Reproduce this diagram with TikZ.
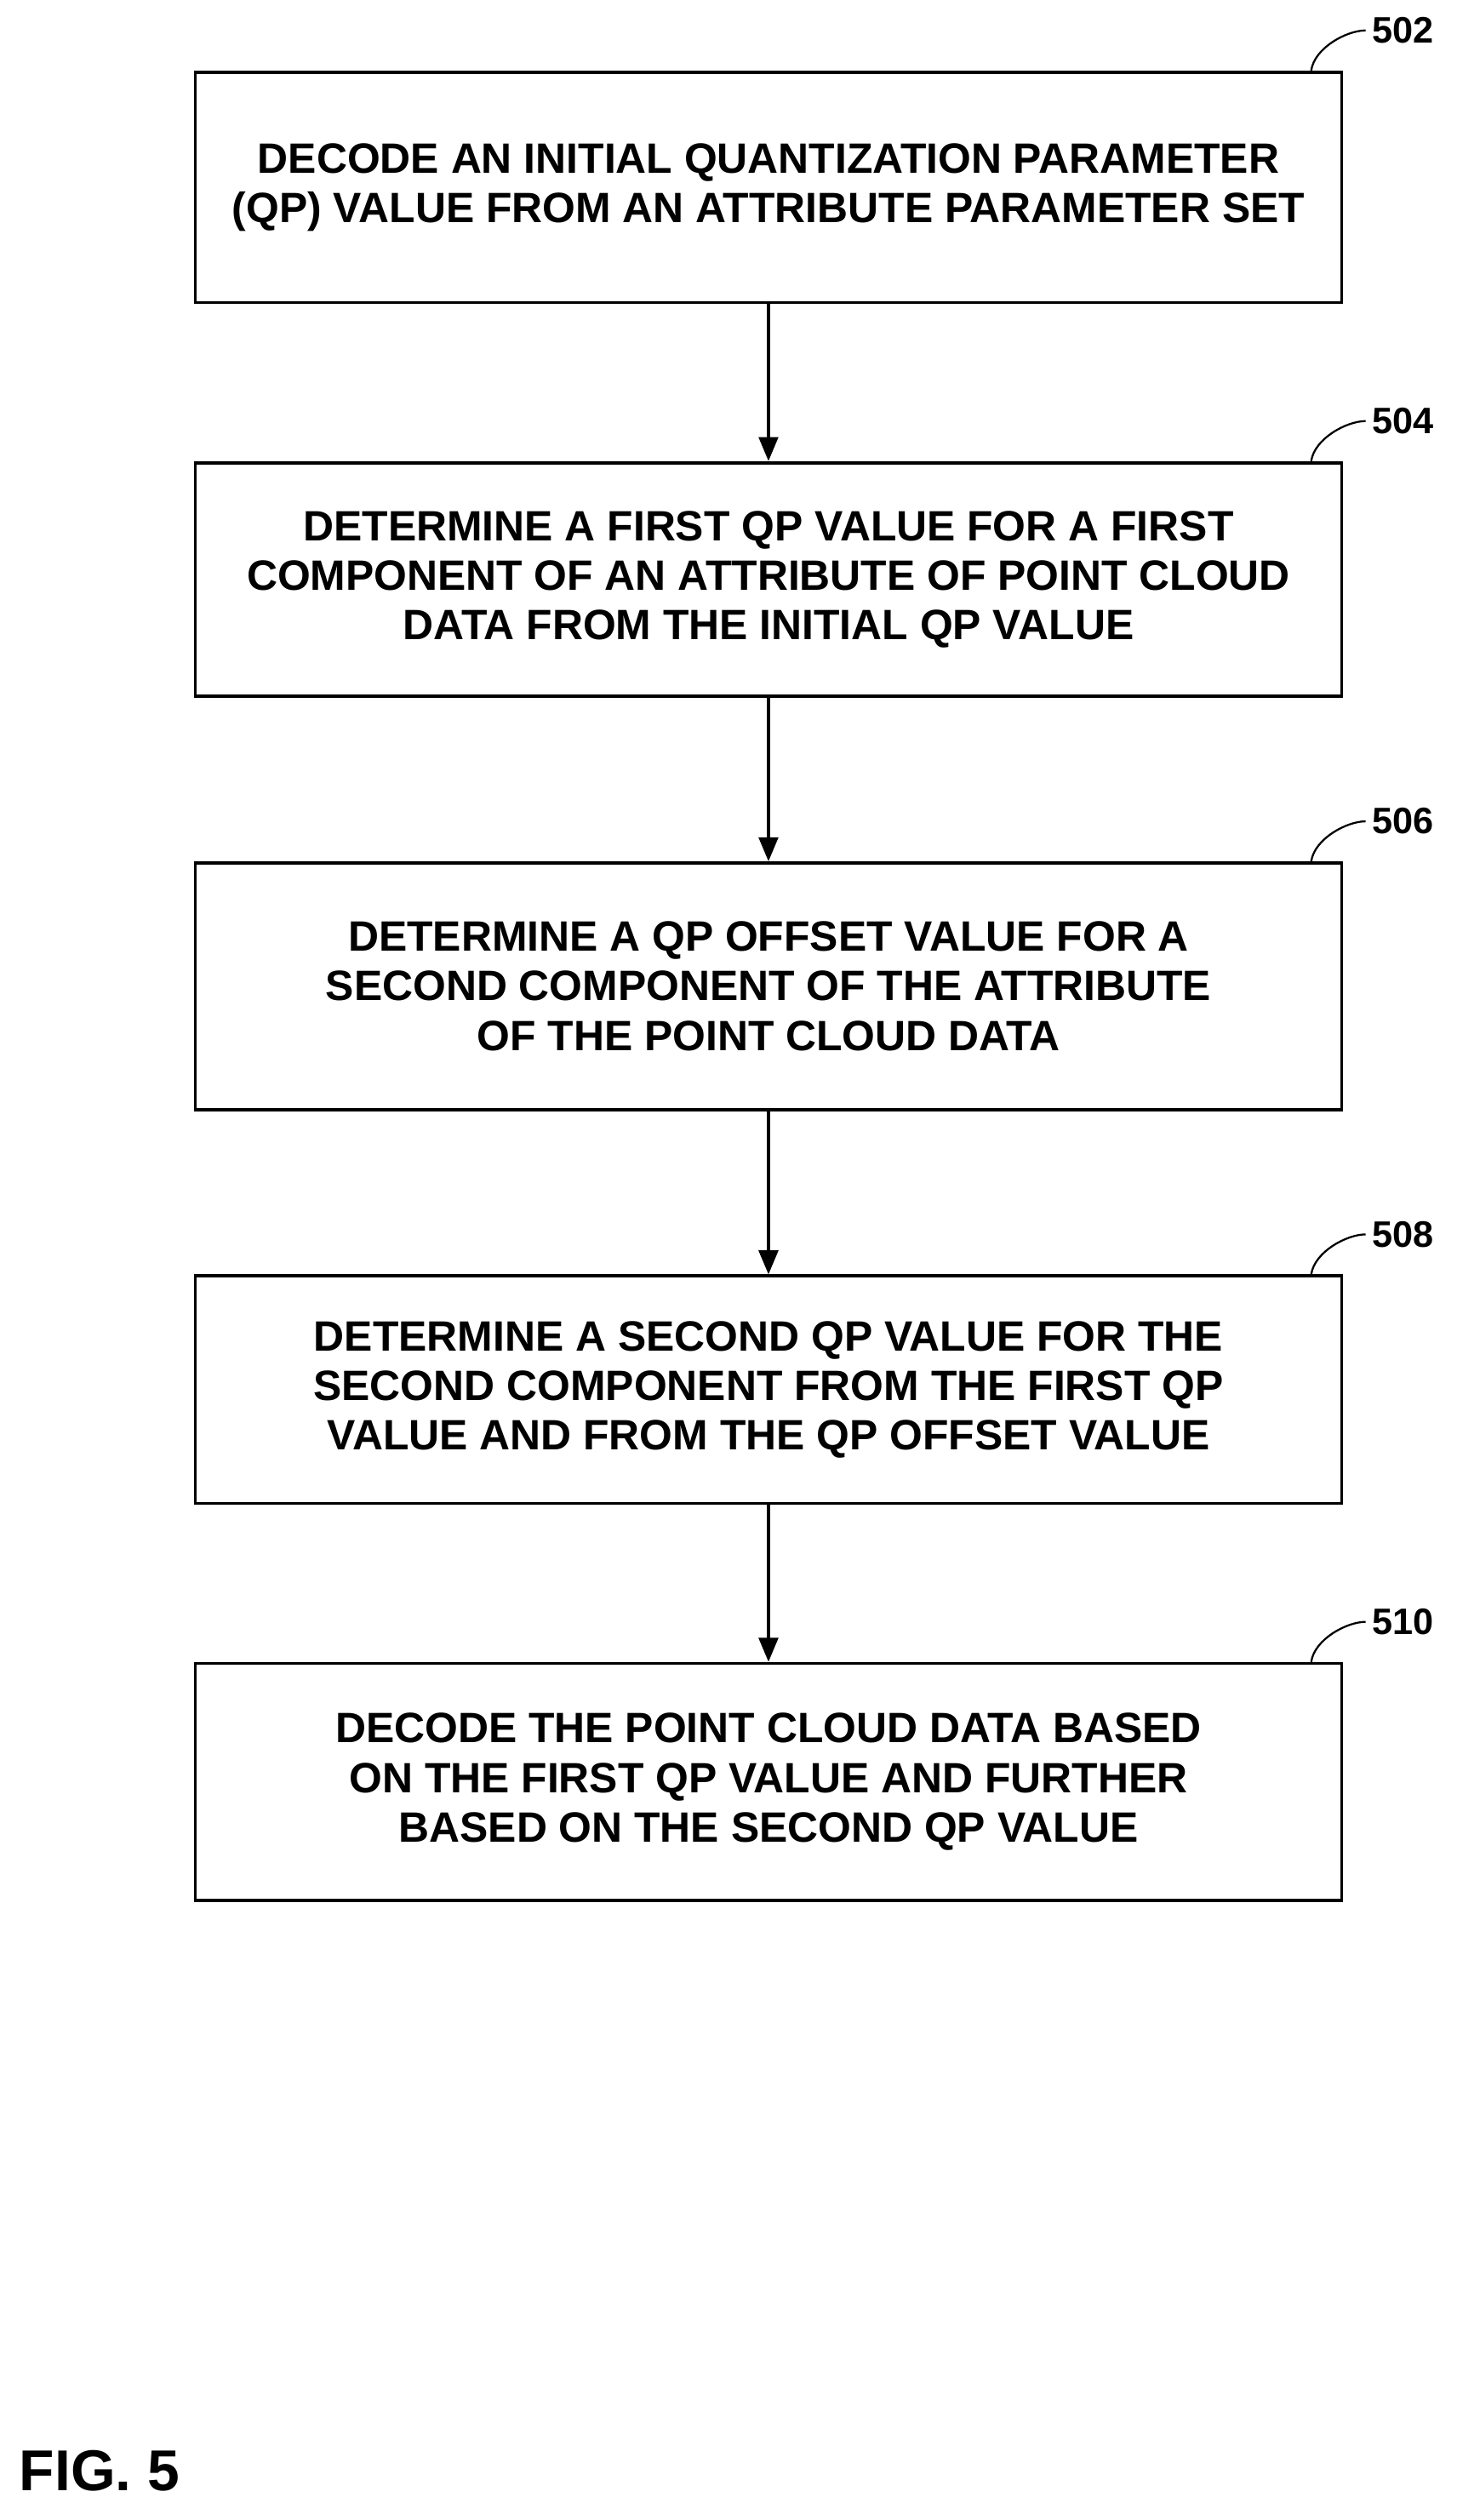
\documentclass[tikz,border=0pt]{standalone}
\usepackage{fontspec}
\setmainfont{Liberation Sans}
\usetikzlibrary{arrows.meta}
\tikzset{
  box/.style={draw, line width=2pt, minimum width=716pt, align=center,
    font=\bfseries\fontsize{26.5}{31}\selectfont, inner sep=0pt},
  flow/.style={line width=2pt, -{Triangle[length=15pt,width=12pt]}},
  tag/.style={font=\bfseries\fontsize{23}{26}\selectfont, anchor=west, inner sep=0pt},
  lead/.style={line width=1.2pt}
}
\begin{document}
\begin{tikzpicture}[x=1pt,y=-1pt]
\useasboundingbox (0,0) rectangle (910,1574);

\node[box, minimum height=144pt] (s502) at (480,117) {DECODE AN INITIAL QUANTIZATION PARAMETER\\(QP) VALUE FROM AN ATTRIBUTE PARAMETER SET};
\node[box, minimum height=146pt] (s504) at (480,362) {DETERMINE A FIRST QP VALUE FOR A FIRST\\COMPONENT OF AN ATTRIBUTE OF POINT CLOUD\\DATA FROM THE INITIAL QP VALUE};
\node[box, minimum height=154pt] (s506) at (480,616) {DETERMINE A QP OFFSET VALUE FOR A\\SECOND COMPONENT OF THE ATTRIBUTE\\OF THE POINT CLOUD DATA};
\node[box, minimum height=142pt] (s508) at (480,868) {DETERMINE A SECOND QP VALUE FOR THE\\SECOND COMPONENT FROM THE FIRST QP\\VALUE AND FROM THE QP OFFSET VALUE};
\node[box, minimum height=148pt] (s510) at (480,1113) {DECODE THE POINT CLOUD DATA BASED\\ON THE FIRST QP VALUE AND FURTHER\\BASED ON THE SECOND QP VALUE};

\draw[flow] (s502) -- (s504);
\draw[flow] (s504) -- (s506);
\draw[flow] (s506) -- (s508);
\draw[flow] (s508) -- (s510);

% reference numbers
\foreach \s/\n in {s502/502,s504/504,s506/506,s508/508,s510/510}{
  \coordinate (c\n) at ([xshift=-20pt]\s.north east);
  \node[tag] (t\n) at ([xshift=18pt,yshift=25pt]\s.north east) {\n};
  \draw[lead] (c\n) .. controls +(2,-14) and +(-12,0) .. ([xshift=-4pt]t\n.west);
}

\node[font=\bfseries\fontsize{36}{40}\selectfont, anchor=west, inner sep=0pt] (fig) at (12,1543) {FIG. 5};
\end{tikzpicture}
\end{document}
